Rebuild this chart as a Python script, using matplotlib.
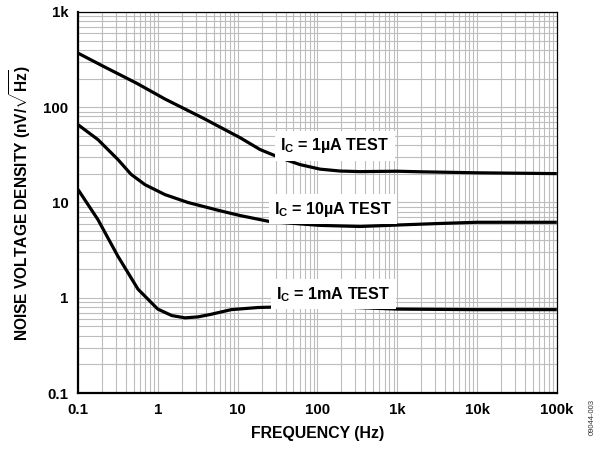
import matplotlib
matplotlib.use("Agg")
import matplotlib.pyplot as plt

plt.rcParams['font.family'] = ['Liberation Sans', 'DejaVu Sans']
plt.rcParams['font.weight'] = 'bold'
plt.rcParams['mathtext.fontset'] = 'custom'
plt.rcParams['mathtext.rm'] = 'Liberation Sans:bold'
plt.rcParams['mathtext.bf'] = 'Liberation Sans:bold'
plt.rcParams['mathtext.it'] = 'Liberation Sans:bold'

# ---- data ----
freq_1uA = [0.1, 0.206, 0.548, 1.23, 3.68, 6.0, 10.7, 19.1, 34, 60.5, 108, 192, 342, 1000, 2000, 10000, 100000]
nv_1uA   = [370, 270, 178, 122, 77, 62, 48, 36, 29.5, 25, 22.4, 21.4, 21.1, 21.3, 21.0, 20.5, 20.1]

freq_10uA = [0.1, 0.178, 0.317, 0.461, 0.69, 1.23, 2.39, 6.0, 10.7, 25.5, 108, 342, 1000, 3000, 10000, 100000]
nv_10uA   = [65.6, 45.7, 28.2, 19.8, 15.4, 12.1, 10.0, 8.2, 7.3, 6.3, 5.75, 5.6, 5.8, 6.0, 6.2, 6.2]

freq_1mA = [0.1, 0.178, 0.317, 0.565, 1.0, 1.5, 2.2, 3.2, 4.64, 8.3, 18.1, 32, 100, 300, 1000, 10000, 100000]
nv_1mA   = [13.7, 6.6, 2.72, 1.23, 0.76, 0.65, 0.615, 0.63, 0.67, 0.75, 0.79, 0.80, 0.81, 0.79, 0.76, 0.75, 0.75]

xticks = [0.1, 1, 10, 100, 1e3, 1e4, 1e5]
xticklabels = ['0.1', '1', '10', '100', '1k', '10k', '100k']
yticks = [0.1, 1, 10, 100, 1000]
yticklabels = ['0.1', '1', '10', '100', '1k']

fig = plt.figure(figsize=(6.0, 4.51), dpi=100)
ax = fig.add_axes([0.13, 0.1286, 0.798, 0.8448])

for f, v in [(freq_1uA, nv_1uA), (freq_10uA, nv_10uA), (freq_1mA, nv_1mA)]:
    ax.plot(f, v, color='black', lw=2.3, solid_capstyle='butt', solid_joinstyle='round', zorder=3)

ax.set_xscale('log')
ax.set_yscale('log')
ax.set_xlim(0.1, 1e5)
ax.set_ylim(0.1, 1000)
ax.set_xticks(xticks)
ax.set_xticklabels(xticklabels)
ax.set_yticks(yticks)
ax.set_yticklabels(yticklabels)
ax.xaxis.set_minor_locator(matplotlib.ticker.LogLocator(base=10, subs=range(2, 10), numticks=20))
ax.yaxis.set_minor_locator(matplotlib.ticker.LogLocator(base=10, subs=range(2, 10), numticks=20))
ax.xaxis.set_minor_formatter(matplotlib.ticker.NullFormatter())
ax.yaxis.set_minor_formatter(matplotlib.ticker.NullFormatter())
ax.tick_params(which='both', length=0, labelsize=10.8, pad=7)
ax.grid(which='both', color='#bdbdbd', lw=0.8)
ax.set_axisbelow(True)

for s in ['left', 'bottom']:
    ax.spines[s].set_linewidth(1.6)
for s in ['top', 'right']:
    ax.spines[s].set_linewidth(0.9)

ax.set_xlabel('FREQUENCY (Hz)', fontsize=11.4, fontweight='bold', labelpad=7)
ax.set_ylabel(r'NOISE VOLTAGE DENSITY (nV/$\sqrt{\mathrm{Hz}}$)', fontsize=11.2, fontweight='bold', labelpad=7)

box = dict(facecolor='white', edgecolor='none', pad=4)
ax.text(166, 39.5, r'I$_{\mathrm{C}}$ = 1µA TEST', ha='center', va='center', fontsize=11.6,
        fontweight='bold', bbox=box, zorder=4)
ax.text(157, 8.45, r'I$_{\mathrm{C}}$ = 10µA TEST', ha='center', va='center', fontsize=11.6,
        fontweight='bold', bbox=box, zorder=4)
ax.text(157, 1.09, r'I$_{\mathrm{C}}$ = 1mA TEST', ha='center', va='center', fontsize=11.6,
        fontweight='bold', bbox=box, zorder=4)

fig.text(0.987, 0.075, '09044-003', rotation=90, fontsize=5.5, fontweight='normal',
         ha='center', va='center', color='#333333')

fig.savefig('out.png', dpi=100)
